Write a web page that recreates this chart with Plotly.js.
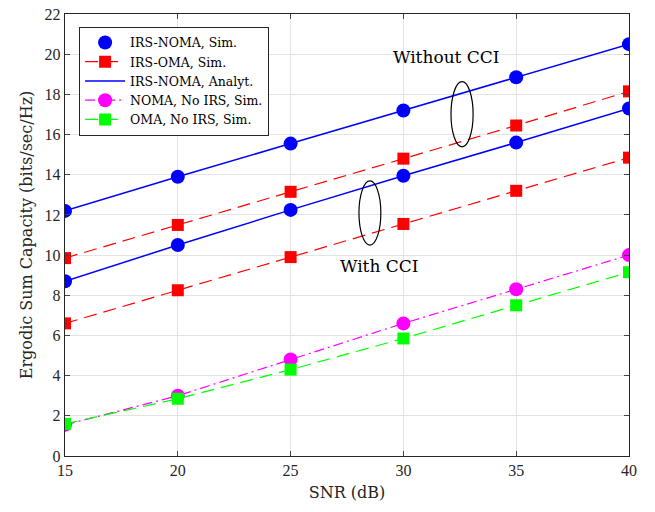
<!DOCTYPE html>
<html><head><meta charset="utf-8">
<script src="https://cdn.plot.ly/plotly-3.0.1.min.js"></script>
<style>html,body{margin:0;padding:0;background:#fff}</style>
</head><body>
<div id="chart" style="width:655px;height:512px"></div>
<script>
const snr = [15, 20, 25, 30, 35, 40];
const irsNomaNoCCI = [12.2, 13.9, 15.55, 17.2, 18.85, 20.5];
const irsOmaNoCCI = [9.85, 11.5, 13.15, 14.8, 16.45, 18.15];
const irsNomaCCI = [8.7, 10.5, 12.25, 13.95, 15.6, 17.3];
const irsOmaCCI = [6.6, 8.25, 9.9, 11.55, 13.2, 14.85];
const nomaNoIrs = [1.55, 3.0, 4.8, 6.6, 8.3, 10.0];
const omaNoIrs = [1.6, 2.85, 4.3, 5.85, 7.5, 9.15];
const xTicks = [15, 20, 25, 30, 35, 40];
const yTicks = [0, 2, 4, 6, 8, 10, 12, 14, 16, 18, 20, 22];

const font = "Liberation Serif, Times New Roman, serif";
const wide = "DejaVu Serif, serif";
const blue = "#0000ff", red = "#ff0000", mag = "#ff00ff", green = "#00ff00";
const dash = "13px,7px";

const traces = [
  {x: snr, y: irsNomaNoCCI, mode: "markers", name: "IRS-NOMA, Sim.",
   marker: {color: blue, size: 14, symbol: "circle"}, legendgroup: "a"},
  {x: snr, y: irsNomaCCI, mode: "markers", showlegend: false,
   marker: {color: blue, size: 14, symbol: "circle"}, legendgroup: "a"},
  {x: snr, y: irsOmaNoCCI, mode: "lines+markers", name: "IRS-OMA, Sim.",
   line: {color: red, width: 1.2, dash: dash}, marker: {color: red, size: 12, symbol: "square"}, legendgroup: "b"},
  {x: snr, y: irsOmaCCI, mode: "lines+markers", showlegend: false,
   line: {color: red, width: 1.2, dash: dash}, marker: {color: red, size: 12, symbol: "square"}, legendgroup: "b"},
  {x: snr, y: irsNomaNoCCI, mode: "lines", name: "IRS-NOMA, Analyt.",
   line: {color: blue, width: 1.5}, legendgroup: "c"},
  {x: snr, y: irsNomaCCI, mode: "lines", showlegend: false,
   line: {color: blue, width: 1.5}, legendgroup: "c"},
  {x: snr, y: nomaNoIrs, mode: "lines+markers", name: "NOMA, No IRS, Sim.",
   line: {color: mag, width: 1.2, dash: "10px,4px,2px,4px"}, marker: {color: mag, size: 14, symbol: "circle"}},
  {x: snr, y: omaNoIrs, mode: "lines+markers", name: "OMA, No IRS, Sim.",
   line: {color: green, width: 1.2, dash: dash}, marker: {color: green, size: 12, symbol: "square"}}
];

const layout = {
  width: 655, height: 512,
  margin: {l: 65, r: 26, t: 14, b: 56},
  paper_bgcolor: "#fff", plot_bgcolor: "#fff",
  font: {family: font, size: 16, color: "#262626"},
  showlegend: true,
  legend: {x: 0.025, y: 0.971, xanchor: "left", yanchor: "top",
    bgcolor: "#fff", bordercolor: "#262626", borderwidth: 1,
    font: {family: wide, size: 12.5, color: "#000"}, tracegroupgap: 0, itemwidth: 40},
  xaxis: {range: [15, 40], tickvals: xTicks, ticks: "inside", ticklen: 5,
    showline: true, mirror: "ticks", linecolor: "#262626", linewidth: 1.2,
    showgrid: true, gridcolor: "#e3e3e3", zeroline: false,
    title: {text: "SNR (dB)", font: {family: wide, size: 16}, standoff: 8}},
  yaxis: {range: [0, 22], tickvals: yTicks, ticks: "inside", ticklen: 5,
    showline: true, mirror: "ticks", linecolor: "#262626", linewidth: 1.2,
    showgrid: true, gridcolor: "#e3e3e3", zeroline: false,
    title: {text: "Ergodic Sum Capacity (bits/sec/Hz)", font: {family: wide, size: 16}, standoff: 8}},
  shapes: [
    {type: "circle", xref: "x", yref: "y", x0: 32.11, x1: 33.09, y0: 15.39, y1: 18.63,
     line: {color: "#000", width: 1.2}},
    {type: "circle", xref: "x", yref: "y", x0: 28.03, x1: 29.0, y0: 10.5, y1: 13.69,
     line: {color: "#000", width: 1.2}}
  ],
  annotations: [
    {x: 31.93, y: 19.86, xref: "x", yref: "y", text: "Without CCI", showarrow: false,
     font: {family: wide, size: 17, color: "#000"}},
    {x: 28.96, y: 9.46, xref: "x", yref: "y", text: "With CCI", showarrow: false,
     font: {family: wide, size: 17, color: "#000"}}
  ]
};
Plotly.newPlot("chart", traces, layout, {displayModeBar: false, staticPlot: true});
</script>
</body></html>
